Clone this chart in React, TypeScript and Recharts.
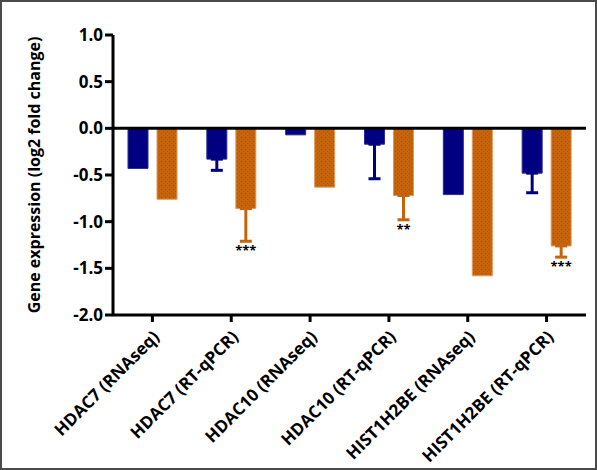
import React from 'react';
import { ComposedChart, Bar, XAxis, YAxis, ReferenceLine, ErrorBar, LabelList } from 'recharts';

const categories = [
  'HDAC7 (RNAseq)',
  'HDAC7 (RT-qPCR)',
  'HDAC10 (RNAseq)',
  'HDAC10 (RT-qPCR)',
  'HIST1H2BE (RNAseq)',
  'HIST1H2BE (RT-qPCR)',
];
const navyValues = [-0.43, -0.33, -0.07, -0.17, -0.71, -0.48];
const navyErrors = [null, 0.12, null, 0.37, null, 0.21];
const orangeValues = [-0.76, -0.86, -0.63, -0.72, -1.58, -1.26];
const orangeErrors = [null, 0.35, null, 0.26, null, 0.12];
const orangeSig = ['', '***', '', '**', '', '***'];
const yTicks = [1.0, 0.5, 0, -0.5, -1.0, -1.5, -2.0];

const NAVY = '#000080';
const ORANGE = '#c6640e';
const FONT = '"Open Sans", Arial, sans-serif';

// errors are drawn downward only: [below, above]
const data = categories.map((name, i) => ({
  name,
  navy: navyValues[i],
  navyErr: navyErrors[i] == null ? null : [navyErrors[i], 0],
  orange: orangeValues[i],
  orangeErr: orangeErrors[i] == null ? null : [orangeErrors[i], 0],
}));

function CategoryTick(props: any) {
  const { x, y, payload } = props;
  return (
    <text
      transform={`translate(${x + 8},${y + 14}) rotate(-45)`}
      textAnchor="end"
      fontSize={17}
      fontWeight={700}
      fontFamily={FONT}
      fill="#000"
    >
      {payload.value}
    </text>
  );
}

function SigLabel(props: any) {
  const { index } = props;
  const vb = props.viewBox ?? props;
  const sig = orangeSig[index];
  const err = orangeErrors[index];
  if (!sig || err == null) return null;
  const h = Math.abs(vb.height);
  const bottom = Math.max(vb.y, vb.y + vb.height);
  const perUnit = h / Math.abs(orangeValues[index]);
  const end = bottom + err * perUnit;
  return (
    <text
      x={vb.x + vb.width / 2}
      y={end + 14}
      textAnchor="middle"
      fontSize={13}
      fontWeight={700}
      fontFamily={FONT}
      fill="#000"
    >
      {sig}
    </text>
  );
}

function YTitle(props: any) {
  const vb = props.viewBox;
  const cx = vb.x + 34;
  const cy = vb.y + vb.height / 2;
  return (
    <text
      x={cx}
      y={cy}
      transform={`rotate(-90, ${cx}, ${cy})`}
      textAnchor="middle"
      dominantBaseline="central"
      fontSize={16}
      fontWeight={700}
      fontFamily={FONT}
      fill="#000"
    >
      Gene expression (log2 fold change)
    </text>
  );
}

export default function App() {
  return (
    <div style={{ position: 'absolute', left: 0, top: 0, width: 597, height: 470, background: '#fff' }}>
      <ComposedChart
        width={597}
        height={470}
        data={data}
        margin={{ top: 35, right: 11, left: 0, bottom: 0 }}
        barCategoryGap={15}
        barGap={9}
      >
        <defs>
          <pattern id="orangeDots" width="4" height="4" patternUnits="userSpaceOnUse">
            <rect width="4" height="4" fill={ORANGE} />
            <rect x="1" y="1" width="1" height="1" fill="#a85208" />
            <rect x="3" y="3" width="1" height="1" fill="#b25a0a" />
          </pattern>
        </defs>
        <XAxis
          dataKey="name"
          interval={0}
          height={155}
          tickSize={7}
          axisLine={{ stroke: '#000', strokeWidth: 3 }}
          tickLine={{ stroke: '#000', strokeWidth: 3 }}
          tick={<CategoryTick />}
        />
        <YAxis
          width={113}
          domain={[-2, 1]}
          ticks={yTicks}
          interval={0}
          tickSize={8}
          tickMargin={2}
          axisLine={{ stroke: '#000', strokeWidth: 3 }}
          tickLine={{ stroke: '#000', strokeWidth: 3 }}
          tick={{ fill: '#000', fontSize: 17, fontWeight: 700, fontFamily: FONT }}
          tickFormatter={(v: number) => v.toFixed(1)}
          label={<YTitle />}
        />
        <Bar dataKey="navy" fill={NAVY} stroke="#2b2b99" strokeWidth={1} barSize={20} isAnimationActive={false}>
          <ErrorBar dataKey="navyErr" direction="y" width={6} stroke={NAVY} strokeWidth={3} />
        </Bar>
        <Bar dataKey="orange" fill="url(#orangeDots)" stroke="#e09a58" strokeWidth={1} barSize={20} isAnimationActive={false}>
          <ErrorBar dataKey="orangeErr" direction="y" width={6} stroke={ORANGE} strokeWidth={3} />
          <LabelList dataKey="orange" content={<SigLabel />} />
        </Bar>
        <ReferenceLine y={0} stroke="#000" strokeWidth={3} />
      </ComposedChart>
      <div
        style={{
          position: 'absolute',
          inset: 0,
          border: '2px solid #4a4a4a',
          boxSizing: 'border-box',
          pointerEvents: 'none',
        }}
      />
    </div>
  );
}
